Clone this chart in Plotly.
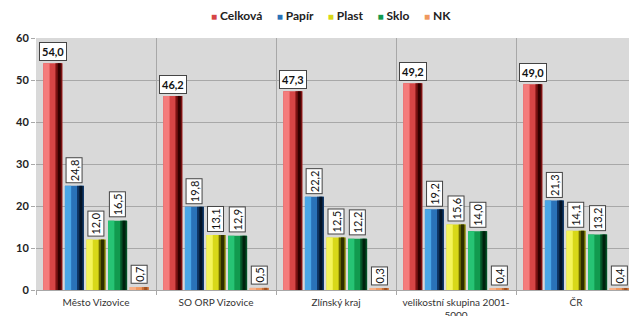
import plotly.graph_objects as go

categories = ["Město Vizovice", "SO ORP Vizovice", "Zlínský kraj", "velikostní skupina 2001-5000", "ČR"]
tick_labels = ["Město Vizovice", "SO ORP Vizovice", "Zlínský kraj", "velikostní skupina 2001-<br>5000", "ČR"]
series_names = ["Celková", "Papír", "Plast", "Sklo", "NK"]
celkova = [54.0, 46.2, 47.3, 49.2, 49.0]
papir = [24.8, 19.8, 22.2, 19.2, 21.3]
plast = [12.0, 13.1, 12.5, 15.6, 14.1]
sklo = [16.5, 12.9, 12.2, 14.0, 13.2]
nk = [0.7, 0.5, 0.3, 0.4, 0.4]
y_ticks = [0, 10, 20, 30, 40, 50, 60]

series_values = [celkova, papir, plast, sklo, nk]
# light, main, dark, darkest
palettes = [
    ["#f47c7c", "#d64545", "#7a1212", "#330000"],
    ["#4aa6e6", "#2a72b8", "#0e3260", "#041426"],
    ["#f4f45a", "#d8d818", "#6a6a00", "#2e2e00"],
    ["#26c474", "#119a4e", "#045226", "#00220e"],
    ["#f8b088", "#f0985e", "#c8703a", "#a05020"],
]

bargap = 0.10
groupgap = 0.12
n = len(series_names)
slot = (1 - bargap) / n
bw = slot * (1 - groupgap)

fig = go.Figure()
annotations = []
legend_parts = []
for k, (name, vals, pal) in enumerate(zip(series_names, series_values, palettes)):
    off = -(1 - bargap) / 2 + slot * k + slot * groupgap / 2
    fig.add_trace(go.Bar(x=categories, y=vals, name=name, width=bw, offset=off,
                         marker=dict(color=pal[1], line=dict(width=0)),
                         showlegend=False, hoverinfo="skip"))
    fig.add_trace(go.Bar(x=categories, y=vals, width=bw * 0.33, offset=off,
                         marker=dict(color=pal[0], line=dict(width=0)),
                         showlegend=False, hoverinfo="skip"))
    fig.add_trace(go.Bar(x=categories, y=vals, width=bw * 0.36, offset=off + bw * 0.64,
                         marker=dict(color=pal[2], line=dict(width=0)),
                         showlegend=False, hoverinfo="skip"))
    fig.add_trace(go.Bar(x=categories, y=vals, width=bw * 0.16, offset=off + bw * 0.76,
                         marker=dict(color=pal[3], line=dict(width=0)),
                         showlegend=False, hoverinfo="skip"))
    legend_parts.append(f"<span style='color:{pal[1]};font-size:10px'>■</span> {name}")
    center = off + bw / 2
    for i, v in enumerate(vals):
        txt = f"{v:.1f}".replace(".", ",")
        if k == 0:
            annotations.append(dict(x=i + center, y=v, xref="x", yref="y", text="<b>" + txt + "</b>",
                                    showarrow=False, yanchor="bottom", xanchor="center", yshift=2,
                                    font=dict(size=11, color="#111", family="Lato"),
                                    bgcolor="white", bordercolor="#444", borderwidth=1, borderpad=2))
        else:
            annotations.append(dict(x=i + center, y=v, xref="x", yref="y", text=txt, textangle=-90,
                                    showarrow=False, yanchor="bottom", xanchor="center", yshift=3,
                                    font=dict(size=11, color="#111", family="Lato"),
                                    bgcolor="white", bordercolor="#444", borderwidth=1, borderpad=1))

plot_w = 629 - 36
plot_h = 316 - 38 - 26
annotations.append(dict(x=(331 - 36) / plot_w, y=(316 - 26 - 15) / plot_h,
                        xref="paper", yref="paper", showarrow=False,
                        xanchor="center", yanchor="middle",
                        text="<b>" + "&nbsp;&nbsp;&nbsp;&nbsp;&nbsp;".join(legend_parts) + "</b>",
                        font=dict(size=12, color="#222", family="Lato")))

fig.update_layout(
    width=629, height=316,
    margin=dict(l=36, r=0, t=38, b=26),
    barmode="overlay",
    paper_bgcolor="white",
    plot_bgcolor="#d9d9d9",
    font=dict(family="Lato", size=10, color="#222"),
    showlegend=False,
    annotations=annotations,
    xaxis=dict(type="category", range=[-0.5, -0.5 + plot_w / 120], tickson="boundaries",
               tickvals=categories, ticktext=tick_labels, automargin=False,
               showgrid=True, gridcolor="#a8a8a8", gridwidth=1,
               ticks="outside", ticklen=4, tickcolor="#a8a8a8",
               showline=True, linecolor="#a8a8a8", ticklabelstandoff=3,
               tickfont=dict(size=10, color="#333", family="Lato"), fixedrange=True),
    yaxis=dict(range=[0, 60], tickvals=y_ticks, showgrid=True, gridcolor="#a8a8a8", gridwidth=1,
               ticks="outside", ticklen=4, tickcolor="#a8a8a8", zeroline=False, automargin=False,
               tickfont=dict(size=11, color="#222", family="Lato", weight="bold"), fixedrange=True),
)

fig.write_html("out.html", config={"displayModeBar": False},
               post_script="document.body.style.margin='0px';")
